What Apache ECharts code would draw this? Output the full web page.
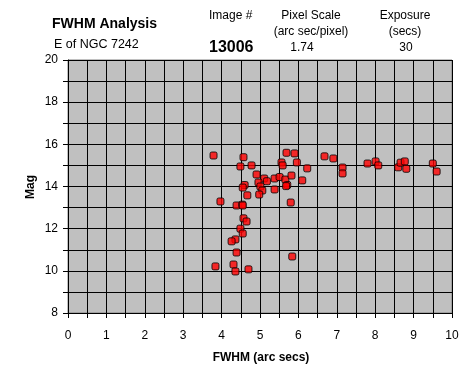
<!DOCTYPE html>
<html><head><meta charset="utf-8">
<script src="https://cdn.jsdelivr.net/npm/echarts@6/dist/echarts.min.js"></script>
<style>html,body{margin:0;padding:0;background:#fff;}#c{width:473px;height:384px;}</style>
</head><body><div id="c"></div>
<script>
var fwhm = [3.79,4.57,4.49,4.78,5.69,5.90,5.56,5.59,5.96,6.23,6.68,6.91,7.15,7.15,7.80,8.01,8.08,8.60,8.66,8.77,8.81,9.50,9.60,
  4.91,5.11,5.18,4.96,5.38,5.51,5.66,5.82,6.10,5.71,5.68,4.60,4.55,5.01,5.06,5.38,4.67,4.98,5.80,3.97,4.39,4.54,4.55,
  4.57,4.65,4.49,4.55,4.36,4.26,4.39,5.84,4.31,3.84,4.36,4.70];
var mag = [15.47,15.39,14.95,15.00,15.60,15.57,15.14,15.00,15.14,14.86,15.43,15.33,14.90,14.62,15.09,15.19,15.00,14.91,15.13,15.19,14.84,15.09,14.71,
  14.57,14.38,14.25,14.19,14.38,14.45,14.33,14.52,14.29,14.07,14.02,14.07,13.95,14.00,13.81,13.86,13.58,13.62,13.24,13.29,13.10,13.14,13.10,
  12.49,12.34,12.00,11.77,11.49,11.40,10.87,10.68,10.30,10.21,9.97,10.07];
var xTicks = [0,1,2,3,4,5,6,7,8,9,10];
var yTicks = [8,10,12,14,16,18,20];
var pts = fwhm.map(function(v,i){return [v, mag[i]];});
var F = '"Liberation Sans", Arial, sans-serif';
var chart = echarts.init(document.getElementById('c'), null, {renderer:'canvas'});
function txt(x,y,s,opt){
  opt = opt||{};
  return {type:'text', x:x, y:y, rotation: opt.rot||0, style:{text:s, fill:'#000', font:(opt.bold?'bold ':'')+(opt.size||12)+'px '+F, align:opt.align||'center', verticalAlign:'middle'}};
}
chart.setOption({
  backgroundColor:'#fff',
  animation:false,
  grid:{left:68, top:60, width:384, height:253, show:true, backgroundColor:'#c0c0c0', borderColor:'#808080', borderWidth:1},
  xAxis:{type:'value', min:xTicks[0], max:xTicks[xTicks.length-1], interval:0.5,
    axisLine:{show:true, onZero:false, lineStyle:{color:'#000', width:1}},
    axisTick:{show:true, interval:1, length:5, lineStyle:{color:'#000'}},
    axisLabel:{interval:1, color:'#000', fontSize:12, fontFamily:F, margin:17, formatter:function(v){return xTicks.indexOf(v)>=0? String(v):'';}},
    splitLine:{show:true, lineStyle:{color:'#000', width:1}}},
  yAxis:{type:'value', min:yTicks[0], max:yTicks[yTicks.length-1], interval:1,
    axisLine:{show:true, onZero:false, lineStyle:{color:'#000', width:1}},
    axisTick:{show:true, interval:1, length:5, lineStyle:{color:'#000'}},
    axisLabel:{interval:1, color:'#000', fontSize:12, fontFamily:F, margin:10, formatter:function(v){return yTicks.indexOf(v)>=0? String(v):'';}},
    splitLine:{show:true, lineStyle:{color:'#000', width:1}}},
  series:[{type:'scatter', data:pts, symbol:'roundRect', symbolSize:7,
    itemStyle:{color:'#ff0000', borderColor:'#000', borderWidth:1}}],
  graphic:[
    txt(52,24,'FWHM Analysis',{bold:true,size:14,align:'left'}),
    txt(54,45,'E of NGC 7242',{size:12.5,align:'left'}),
    txt(209,16,'Image #',{size:12,align:'left'}),
    txt(209,48,'13006',{bold:true,size:16,align:'left'}),
    txt(311,16,'Pixel Scale',{size:12}),
    txt(311,32,'(arc sec/pixel)',{size:12}),
    txt(302,48,'1.74',{size:12}),
    txt(405,16,'Exposure',{size:12}),
    txt(405,32,'(secs)',{size:12}),
    txt(406,48,'30',{size:12}),
    txt(261,358,'FWHM (arc secs)',{bold:true,size:12}),
    txt(31,187,'Mag',{bold:true,size:12,rot:Math.PI/2})
  ]
});
</script></body></html>
